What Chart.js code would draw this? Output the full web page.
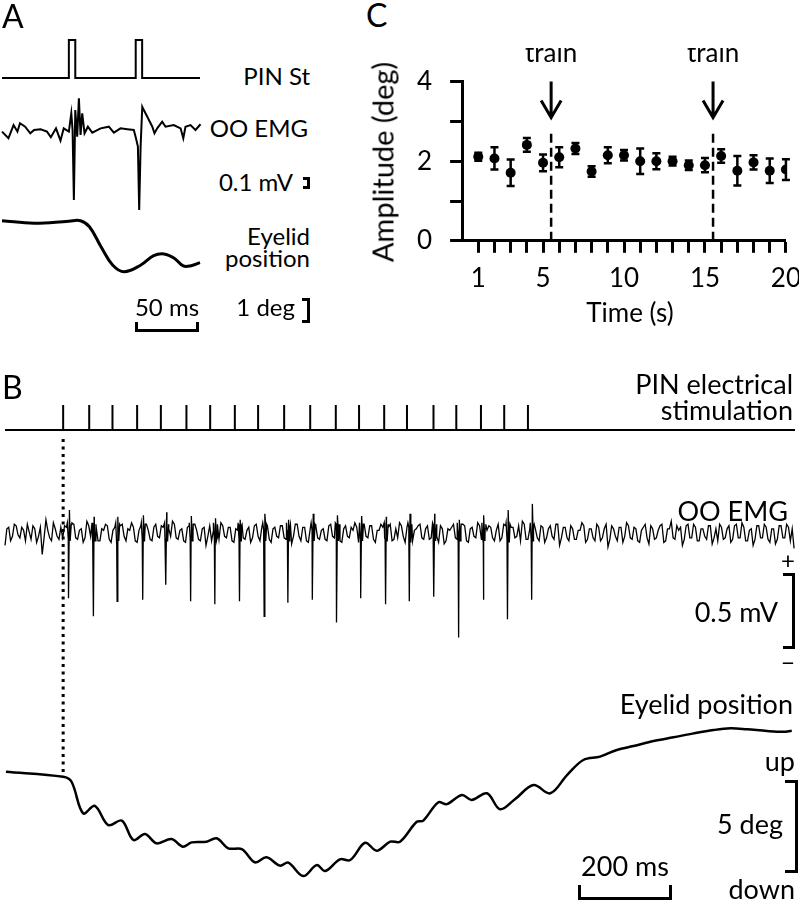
<!DOCTYPE html>
<html>
<head>
<meta charset="utf-8">
<title>PIN stimulation and eyelid responses</title>
<script src="https://cdn.jsdelivr.net/npm/chart.js@4.4.1/dist/chart.umd.min.js"></script>
<style>
  html, body { margin: 0; padding: 0; background: #fff; }
  #fig { position: relative; width: 799px; height: 900px; overflow: hidden; color: #000;
         font-family: Lato, "Open Sans", sans-serif; }
  .trace { position: absolute; }
  .lbl { position: absolute; white-space: nowrap; line-height: 1; }
  .bar { position: absolute; box-sizing: border-box; border: 3px solid #000; }
</style>
</head>
<body>
<div id="fig"></div>
<script>
// ---- panel C: amplitude per second of train (mean +/- error) ----
const timeSec = [1, 2, 3, 4, 5, 6, 7, 8, 9, 10, 11, 12, 13, 14, 15, 16, 17, 18, 19, 20];
const amplitudeDeg = [2.11, 2.07, 1.71, 2.41, 1.96, 2.10, 2.32, 1.74, 2.15, 2.15, 2.00, 2.00, 2.00, 1.90, 1.90, 2.13, 1.76, 1.97, 1.76, 1.79];
const amplitudeErr = [0.10, 0.28, 0.33, 0.17, 0.21, 0.25, 0.14, 0.13, 0.20, 0.13, 0.32, 0.20, 0.11, 0.12, 0.18, 0.17, 0.37, 0.18, 0.31, 0.26];
const trainOnsets = [5.5, 15.5];
const xTickLabels = [1, 5, 10, 15, 20];
const yTickLabels = [0, 2, 4];

// ---- panel A: two PIN pulses (ms), OO EMG (mV), eyelid (deg) ----
const stimTimesA = [0, 52];
const pulseWidthA = 5;
const emgATime = [-52, -47, -43, -40, -38, -34, -30, -27, -22, -17, -14, -10, -6.5, -4, 0, 1.9, 2.9, 3.9, 5, 6.5,
  7.8, 9.1, 10.4, 12.2, 14.8, 18.2, 24.7, 31.1, 35, 40.2, 45.4, 50.5, 51.9, 53.7, 54.7, 55.8, 57.1, 58.3, 61, 64.9,
  66.6, 68.7, 72.6, 75.2, 81.6, 86.9, 89, 90.7, 94.6, 98.5, 102.4];
const emgAValue = [-0.013, -0.065, 0.039, -0.013, 0.053, 0.026, -0.026, 0, 0.006, -0.013, -0.057, 0.013, -0.084, 0.013, -0.013, 0.131, 0, -0.551, 0.157, -0.053,
  0.25, -0.039, 0.131, -0.026, 0.026, -0.021, 0.013, 0.026, -0.021, 0.013, 0.006, 0, -0.053, -0.131, -0.63, -0.131, 0.183, 0.157, 0.105, 0.026,
  -0.026, 0.013, 0.065, 0.026, 0.039, 0.013, -0.065, 0.026, 0.039, 0, 0.045];
const eyelidATime = [-52, -27, 0, 9, 16, 25, 34, 43, 56, 66, 74, 82, 89, 95, 102];
const eyelidAValue = [0, -0.1, -0.02, 0, -0.24, -1.04, -1.77, -2.04, -1.77, -1.4, -1.33, -1.5, -1.81, -1.8, -1.68];

// ---- panel B: 20-pulse train (ms), OO EMG (mV), eyelid (deg) ----
const stimTimesB = [0, 56, 106, 159, 210, 265, 316, 369, 419, 475, 531, 586, 636, 690, 739, 796, 845, 898, 948, 999];
const spikeTimesB = [12, 65, 116, 171, 221, 274, 326, 379, 432, 483, 536, 588, 640, 693, 744, 797, 850, 903, 955, 1007];
const spikeDepthB = [0.43, 0.55, 0.45, 0.44, 0.34, 0.45, 0.47, 0.45, 0.55, 0.46, 0.44, 0.59, 0.43, 0.47, 0.45, 0.42, 0.69, 0.44, 0.57, 0.44];
const spikeUpB = [0.155, 0.11, 0.11, 0.12, 0.14, 0.115, 0.10, 0.09, 0.13, 0.09, 0.13, 0.12, 0.115, 0.11, 0.13, 0.13, 0.09, 0.12, 0.155, 0.195];
const noiseStartB = -125;
const noiseStepB = 8;
// samples on the 8 ms grid
const noiseB = [
  -0.08, 0.04, -0.02, 0.05, -0.03, 0.02, 0.06, -0.04, 0.03, -0.02, -0.14, 0.09, -0.03, 0.07, -0.02, 0.04,
  0.05, -0.04, 0.07, -0.03, 0.02, -0.06, 0.08, -0.02, 0.04, -0.05,
  0.03, 0.06, -0.04, 0.02, -0.07, 0.05, -0.02, 0.03, 0.07, -0.05,
  0.02, -0.03, 0.06, -0.04, 0.04, -0.02, 0.05, -0.06, 0.03, 0.08,
  -0.03, 0.02, -0.05, 0.04, -0.02, 0.06, -0.04, 0.03, -0.08, 0.05,
  0.02, -0.03, 0.07, -0.02, 0.04, -0.05, 0.03, 0.06, -0.03, 0.02,
  -0.06, 0.05, -0.02, 0.04, 0.07, -0.04, 0.03, -0.02, 0.05, -0.03,
  0.02, -0.07, 0.06, -0.02, 0.04, -0.05, 0.03, 0.08, -0.03, 0.02,
  -0.04, 0.05, -0.02, 0.06, -0.05, 0.03, -0.02, 0.04, 0.07, -0.06,
  0.03, -0.02, 0.05, -0.04, 0.02, 0.06, -0.03, 0.04, -0.05, 0.03,
  0.07, -0.02, 0.04, -0.06, 0.02, 0.05, -0.03, 0.03, -0.04, 0.06,
  -0.02, 0.05, -0.07, 0.03, 0.04, -0.03, 0.02, 0.06, -0.05, 0.03,
  -0.02, 0.07, -0.04, 0.03, 0.05, -0.03, 0.02, -0.05, 0.06, -0.02,
  0.04, -0.03, 0.05, 0.08, -0.04, 0.03,
  0.04, -0.03, 0.05, -0.06, 0.03, -0.02, 0.06, -0.08, 0.04, -0.03,
  0.05, -0.04, 0.02, 0.07, -0.06, 0.03, -0.03, 0.06, -0.05, 0.03,
  -0.09, 0.05, -0.02, 0.04, -0.06, 0.07, -0.03, 0.04, -0.05, 0.02,
  0.06, -0.07, 0.03, -0.03, 0.05, -0.06, 0.03, 0.08, -0.04, 0.02,
  -0.08, 0.05, -0.03, 0.06, -0.05, 0.03, -0.02, 0.05, -0.07, 0.03,
  0.06, -0.04, 0.03, -0.06, 0.05, -0.03, 0.07, -0.05, 0.02, -0.08,
  0.05, -0.03, 0.06, -0.04, 0.03, -0.07, 0.05, -0.03, 0.06, -0.05,
  -0.10
];
// samples halfway between the 8 ms grid points
const noiseBMid = [
  0.03, -0.05, 0.06, -0.01, 0.04, -0.05, 0.01, 0.05, -0.06, 0.04, -0.03, 0.02, -0.05, 0.03, -0.04,
  -0.03, 0.04, -0.05, 0.06, -0.04, 0.03, -0.03, 0.05, -0.06, 0.04,
  -0.05, 0.02, 0.05, -0.06, 0.04, -0.03, 0.06, -0.05, 0.02, 0.04,
  -0.06, 0.05, -0.03, 0.02, -0.05, 0.06, -0.03, 0.04, -0.05, -0.02,
  0.06, -0.04, 0.03, -0.06, 0.05, -0.03, 0.02, -0.05, 0.04, -0.02,
  -0.05, 0.06, -0.04, 0.05, -0.03, 0.04, -0.06, 0.02, 0.05, -0.04,
  0.04, -0.03, 0.06, -0.05, 0.02, 0.05, -0.06, 0.04, -0.03, 0.05,
  -0.04, 0.03, -0.02, 0.06, -0.05, 0.04, -0.06, 0.02, 0.05, -0.04,
  0.03, -0.05, 0.06, -0.03, 0.04, -0.06, 0.05, -0.03, 0.02, 0.04,
  -0.05, 0.06, -0.03, 0.05, -0.06, 0.02, 0.04, -0.05, 0.06, -0.04,
  -0.03, 0.05, -0.06, 0.04, -0.05, 0.03, 0.06, -0.04, 0.05, -0.03,
  0.04, -0.06, 0.03, -0.05, 0.02, 0.06, -0.04, 0.03, 0.05, -0.06,
  0.04, -0.03, 0.05, -0.06, 0.02, 0.04, -0.05, 0.06, -0.03, 0.05,
  -0.06, 0.04, -0.02, -0.05, 0.06, -0.04,
  -0.04, 0.03, -0.05, 0.04, -0.03, 0.05, -0.04, 0.06, -0.03, 0.04,
  -0.05, 0.03, -0.04, 0.02, 0.05, -0.04, 0.03, -0.05, 0.04, -0.03,
  0.06, -0.04, 0.03, -0.05, 0.04, -0.02, 0.05, -0.04, 0.03, -0.06,
  0.04, -0.03, 0.05, -0.04, 0.02, 0.06, -0.05, 0.03, -0.03, 0.05,
  0.04, -0.04, 0.06, -0.03, 0.04, -0.05, 0.03, -0.04, 0.05, -0.03,
  -0.05, 0.04, -0.03, 0.05, -0.04, 0.06, -0.03, 0.04, -0.05, 0.03,
  -0.04, 0.05, -0.03, 0.04, -0.06, 0.03, -0.04, 0.05, -0.03, 0.04,
  0.03
];
const eyelidBTime = [-123, 0, 18, 43, 68, 97, 126, 151, 176, 201, 233, 257, 276, 308, 330, 355, 384, 412, 437, 466,
  484, 516, 545, 563, 595, 617, 649, 674, 703, 724, 760, 774, 806, 825, 857, 878, 911, 939, 971, 1011,
  1047, 1083, 1118, 1154, 1190, 1226, 1269, 1312, 1355, 1398, 1434, 1470, 1513, 1548, 1566];
const eyelidBValue = [0, -0.27, -0.54, -2.24, -1.84, -2.87, -2.63, -3.67, -3.35, -3.85, -3.62, -4.03, -3.80, -3.76, -3.58, -4.12, -4.16, -4.87, -4.60, -5.05,
  -4.89, -5.61, -5.02, -5.34, -4.71, -4.75, -3.82, -4.25, -3.76, -3.76, -2.69, -2.63, -1.65, -1.74, -1.25, -1.52, -1.16, -2.02, -1.48, -0.72,
  -1.16, -0.18, 0.63, 0.81, 1.17, 1.38, 1.65, 1.85, 2.06, 2.24, 2.33, 2.28, 2.19, 2.15, 2.20];

// ---- layout (pixel boxes of each trace's plotting area) ----
const FONT = 'Lato, "Open Sans", sans-serif';
const PAD = 6;
const layout = {
  stimA: { left: 2, top: 40, width: 198, height: 38, x: [-52, 102], y: [0, 1] },
  emgA:  { left: 2, top: 90, width: 198, height: 130, x: [-52, 102], y: [-0.709, 0.315] },
  eyeA:  { left: 2, top: 210, width: 198, height: 70, x: [-52, 102], y: [-2.372, 0.428] },
  stimB: { left: 5, top: 405, width: 790, height: 25, x: [-125, 1573], y: [0, 1] },
  markB: { left: 5, top: 435, width: 790, height: 337, x: [-125, 1573], y: [0, 1] },
  emgB:  { left: 5, top: 490, width: 790, height: 160, x: [-125, 1573], y: [-0.773, 0.287] },
  eyeB:  { left: 5, top: 720, width: 790, height: 165, x: [-125, 1573], y: [-6.09, 2.78] }
};
// wanted plotting area of panel C
const areaC = { left: 462, top: 82, right: 786, bottom: 241 };

const labels = [
  { t: "A", x: 2, cy: 18, align: "left", size: 32 },
  { t: "PIN St", x: 310, cy: 77, align: "right", size: 24 },
  { t: "OO EMG", x: 308, cy: 129, align: "right", size: 24 },
  { t: "0.1 mV", x: 293, cy: 183, align: "right", size: 24 },
  { t: "Eyelid", x: 310, cy: 237, align: "right", size: 24 },
  { t: "position", x: 310, cy: 259, align: "right", size: 24 },
  { t: "50 ms", x: 167, cy: 308, align: "center", size: 24 },
  { t: "1 deg", x: 295, cy: 308, align: "right", size: 24 },
  { t: "C", x: 366, cy: 17, align: "left", size: 32 },
  { t: "Time (s)", x: 630, cy: 314, align: "center", size: 26 },
  { t: "B", x: 2, cy: 389, align: "left", size: 32 },
  { t: "PIN electrical", x: 793, cy: 385, align: "right", size: 27 },
  { t: "stimulation", x: 793, cy: 411, align: "right", size: 27 },
  { t: "OO EMG", x: 788, cy: 512, align: "right", size: 27 },
  { t: "+", x: 788, cy: 561, align: "center", size: 24 },
  { t: "0.5 mV", x: 778, cy: 613, align: "right", size: 27 },
  { t: "\u2212", x: 788, cy: 663, align: "center", size: 24 },
  { t: "Eyelid position", x: 793, cy: 705, align: "right", size: 27 },
  { t: "up", x: 795, cy: 762, align: "right", size: 27 },
  { t: "5 deg", x: 783, cy: 825, align: "right", size: 27 },
  { t: "200 ms", x: 625, cy: 867, align: "center", size: 27 },
  { t: "down", x: 795, cy: 890, align: "right", size: 27 }
];

// scale bars: open side given per bar
const bars = [
  { left: 135, top: 322, width: 64, height: 10, open: "top" },
  { left: 303, top: 177, width: 7, height: 12, open: "left" },
  { left: 302, top: 298, width: 8, height: 25, open: "left" },
  { left: 783, top: 573, width: 12, height: 76, open: "left" },
  { left: 785, top: 780, width: 13, height: 93, open: "left" },
  { left: 578, top: 885, width: 94, height: 15, open: "top" }
];

const fig = document.getElementById("fig");
Chart.defaults.font.family = FONT;
Chart.defaults.color = "#000";

function line(data, width, extra) {
  return Object.assign({
    data,
    showLine: true,
    pointRadius: 0,
    borderColor: "#000",
    borderWidth: width,
    tension: 0,
    spanGaps: false,
    clip: false
  }, extra || {});
}

function addTrace(box, datasets) {
  const wrap = document.createElement("div");
  wrap.className = "trace";
  wrap.style.left = (box.left - PAD) + "px";
  wrap.style.top = (box.top - PAD) + "px";
  const canvas = document.createElement("canvas");
  canvas.width = box.width + 2 * PAD;
  canvas.height = box.height + 2 * PAD;
  wrap.appendChild(canvas);
  fig.appendChild(wrap);

  return new Chart(canvas, {
    type: "scatter",
    data: { datasets },
    options: {
      responsive: false,
      maintainAspectRatio: false,
      animation: false,
      events: [],
      layout: { padding: PAD },
      plugins: { legend: { display: false }, tooltip: { enabled: false } },
      scales: {
        x: { type: "linear", display: false, min: box.x[0], max: box.x[1] },
        y: { type: "linear", display: false, min: box.y[0], max: box.y[1] }
      }
    }
  });
}

function buildStimA() {
  const pts = [{ x: layout.stimA.x[0], y: 0 }];
  stimTimesA.forEach(t => {
    pts.push({ x: t, y: 0 }, { x: t, y: 1 }, { x: t + pulseWidthA, y: 1 }, { x: t + pulseWidthA, y: 0 });
  });
  pts.push({ x: layout.stimA.x[1], y: 0 });
  return pts;
}

function buildStimTicksB() {
  const pts = [];
  stimTimesB.forEach(t => {
    pts.push({ x: t, y: 0 }, { x: t, y: 1 }, { x: t, y: null });
  });
  return pts;
}

function buildEmgB() {
  const pts = noiseB.map((v, i) => ({ x: noiseStartB + i * noiseStepB, y: v }));
  noiseBMid.forEach((v, i) => {
    pts.push({ x: noiseStartB + i * noiseStepB + noiseStepB / 2, y: v });
  });
  spikeTimesB.forEach((t, k) => {
    pts.push(
      { x: t - 3, y: 0.07 },
      { x: t - 1, y: -0.04 },
      { x: t, y: -spikeDepthB[k] },
      { x: t + 1.5, y: spikeUpB[k] },
      { x: t + 3.5, y: -0.05 },
      { x: t + 5.5, y: 0.06 }
    );
  });
  return pts.sort((a, b) => a.x - b.x);
}

function zip(xs, ys) {
  return xs.map((x, i) => ({ x, y: ys[i] }));
}

const errorBars = {
  id: "errorBars",
  beforeDatasetsDraw(chart) {
    const { ctx, scales: { x, y } } = chart;
    ctx.save();
    ctx.strokeStyle = "#000";
    ctx.lineWidth = 2.5;
    timeSec.forEach((t, i) => {
      const px = x.getPixelForValue(t);
      const hi = y.getPixelForValue(amplitudeDeg[i] + amplitudeErr[i]);
      const lo = y.getPixelForValue(amplitudeDeg[i] - amplitudeErr[i]);
      ctx.beginPath();
      ctx.moveTo(px, hi); ctx.lineTo(px, lo);
      ctx.moveTo(px - 4, hi); ctx.lineTo(px + 4, hi);
      ctx.moveTo(px - 4, lo); ctx.lineTo(px + 4, lo);
      ctx.stroke();
    });
    ctx.restore();
  }
};

const trainMarkers = {
  id: "trainMarkers",
  afterDatasetsDraw(chart) {
    const { ctx, scales: { x, y } } = chart;
    ctx.save();
    ctx.strokeStyle = "#000";
    ctx.fillStyle = "#000";
    trainOnsets.forEach(t => {
      const px = x.getPixelForValue(t);
      ctx.setLineDash([9, 5]);
      ctx.lineWidth = 2.5;
      ctx.beginPath();
      ctx.moveTo(px, y.getPixelForValue(0));
      ctx.lineTo(px, y.getPixelForValue(2.75));
      ctx.stroke();

      ctx.setLineDash([]);
      const top = y.getPixelForValue(4);
      const tip = y.getPixelForValue(3.1);
      ctx.lineWidth = 3;
      ctx.beginPath();
      ctx.moveTo(px, top); ctx.lineTo(px, tip);
      ctx.moveTo(px - 10, tip - 17); ctx.lineTo(px, tip); ctx.lineTo(px + 10, tip - 17);
      ctx.stroke();

      ctx.font = "26px " + FONT;
      ctx.textAlign = "center";
      ctx.textBaseline = "alphabetic";
      ctx.fillText("train", px, top - 20);
    });
    ctx.restore();
  }
};

function renderPanelC() {
  const wrap = document.createElement("div");
  wrap.className = "trace";
  const canvas = document.createElement("canvas");
  wrap.appendChild(canvas);
  fig.appendChild(wrap);

  // first guess for the canvas; refined below from the measured chart area
  let box = { left: 400, top: 40, width: 399, height: 260 };
  wrap.style.left = box.left + "px";
  wrap.style.top = box.top + "px";
  canvas.width = box.width;
  canvas.height = box.height;

  const tickGrid = {
    drawOnChartArea: false,
    drawTicks: true,
    tickLength: 12,
    tickWidth: 3,
    tickColor: ctx => (ctx.tick && ctx.tick.value === 0 && ctx.scale.axis === "x") ? "rgba(0,0,0,0)" : "#000"
  };

  const chart = new Chart(canvas, {
    type: "scatter",
    data: {
      datasets: [{
        data: zip(timeSec, amplitudeDeg),
        pointRadius: 5,
        pointBackgroundColor: "#000",
        pointBorderWidth: 0
      }]
    },
    options: {
      responsive: false,
      maintainAspectRatio: false,
      animation: false,
      events: [],
      layout: { padding: 0 },
      plugins: { legend: { display: false }, tooltip: { enabled: false } },
      scales: {
        x: {
          type: "linear", min: 0, max: 20,
          border: { display: true, width: 3, color: "#000" },
          grid: tickGrid,
          ticks: {
            stepSize: 1, autoSkip: false, maxRotation: 0, padding: 10,
            font: { size: 26 },
            callback: v => xTickLabels.includes(v) ? String(v) : ""
          }
        },
        y: {
          type: "linear", min: 0, max: 4,
          border: { display: true, width: 3, color: "#000" },
          grid: tickGrid,
          ticks: {
            stepSize: 1, autoSkip: false, padding: 18,
            font: { size: 26 },
            callback: v => yTickLabels.includes(v) ? String(v) : ""
          }
        }
      }
    },
    plugins: [errorBars, trainMarkers]
  });

  // move/resize the canvas so the plotting area lands on areaC
  for (let pass = 0; pass < 3; pass++) {
    const a = chart.chartArea;
    const offL = a.left, offT = a.top;
    const offR = chart.width - a.right, offB = chart.height - a.bottom;
    box = {
      left: areaC.left - offL,
      top: areaC.top - offT,
      width: Math.round(offL + (areaC.right - areaC.left) + offR),
      height: Math.round(offT + (areaC.bottom - areaC.top) + offB)
    };
    wrap.style.left = box.left + "px";
    wrap.style.top = box.top + "px";
    chart.resize(box.width, box.height);
  }
}

function renderLabels() {
  labels.forEach(l => {
    const d = document.createElement("div");
    d.className = "lbl";
    d.textContent = l.t;
    d.style.fontSize = l.size + "px";
    d.style.top = (l.cy - 0.56 * l.size) + "px";
    if (l.align === "right") {
      d.style.right = (799 - l.x) + "px";
    } else if (l.align === "center") {
      d.style.left = l.x + "px";
      d.style.transform = "translateX(-50%)";
    } else {
      d.style.left = l.x + "px";
    }
    fig.appendChild(d);
  });

  const yTitle = document.createElement("div");
  yTitle.className = "lbl";
  yTitle.textContent = "Amplitude (deg)";
  yTitle.style.fontSize = "29px";
  yTitle.style.left = "382px";
  yTitle.style.top = "162px";
  yTitle.style.transform = "translate(-50%, -50%) rotate(-90deg)";
  fig.appendChild(yTitle);
}

function renderBars() {
  bars.forEach(b => {
    const d = document.createElement("div");
    d.className = "bar";
    d.style.left = b.left + "px";
    d.style.top = b.top + "px";
    d.style.width = b.width + "px";
    d.style.height = b.height + "px";
    d.style["border" + b.open[0].toUpperCase() + b.open.slice(1)] = "none";
    fig.appendChild(d);
  });
}

function renderTraces() {
  addTrace(layout.stimA, [line(buildStimA(), 2)]);
  addTrace(layout.emgA, [line(zip(emgATime, emgAValue), 2)]);
  addTrace(layout.eyeA, [line(zip(eyelidATime, eyelidAValue), 3, { tension: 0.4 })]);

  addTrace(layout.stimB, [
    line([{ x: layout.stimB.x[0], y: 0 }, { x: layout.stimB.x[1], y: 0 }], 2),
    line(buildStimTicksB(), 2)
  ]);
  addTrace(layout.markB, [
    line([{ x: 0, y: 0 }, { x: 0, y: 1 }], 3, { borderDash: [3, 4.5] })
  ]);
  addTrace(layout.emgB, [line(buildEmgB(), 1.3)]);
  addTrace(layout.eyeB, [line(zip(eyelidBTime, eyelidBValue), 2.5, { tension: 0.35 })]);
}

document.addEventListener("DOMContentLoaded", () => {
  renderTraces();
  renderPanelC();
  renderBars();
  renderLabels();
});
</script>
</body>
</html>
